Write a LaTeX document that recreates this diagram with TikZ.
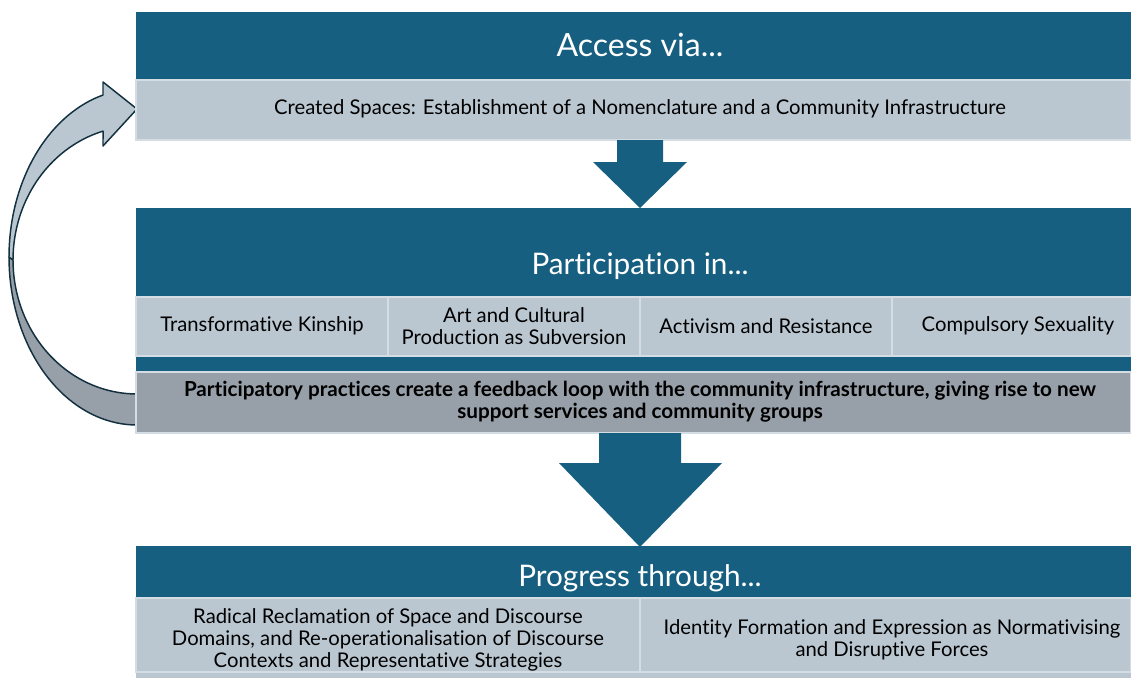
\documentclass[tikz,border=0pt]{standalone}
\usepackage{fontspec}
\setmainfont[Ligatures=NoCommon]{Lato}
\definecolor{bandblue}{HTML}{175F81}
\definecolor{celllight}{HTML}{BAC7D1}
\definecolor{cellrule}{HTML}{D5DDE4}
\definecolor{loopgray}{HTML}{979FA8}
\definecolor{loopline}{HTML}{12303F}

\begin{document}
\begin{tikzpicture}[x=0.75pt, y=-0.75pt,
  band/.style={fill=bandblue},
  cell/.style={fill=celllight, draw=cellrule, line width=1pt},
  title/.style={text=white, font=\fontsize{22.3}{26}\selectfont},
  item/.style={align=center, font=\fontsize{15.2}{16.5}\selectfont},
  loop/.style={draw=loopline, line width=1.1pt, line join=round}]
  \useasboundingbox (0,0) rectangle (1131,678);

  % feedback loop arrow, back face first
  \filldraw[loop, fill=loopgray]
    plot[domain=180:270, samples=40, variable=\t] ({137+128*cos(\t)},{257-168*sin(\t)})
    -- plot[domain=270:180, samples=40, variable=\t] ({137+124*cos(\t)},{260-134*sin(\t)})
    -- cycle;
  \filldraw[loop, fill=celllight]
    (137,109) -- (103,82) -- (103,95)
    -- plot[domain=105.4:180, samples=40, variable=\t] ({137+128*cos(\t)},{257-168*sin(\t)})
    -- plot[domain=180:105.9, samples=40, variable=\t] ({137+124*cos(\t)},{260-134*sin(\t)})
    -- (103,146) -- cycle;

  % access
  \fill[band] (136,12) rectangle (1131,80);
  \node[title, font=\fontsize{24}{28}\selectfont] (access) at (640,45) {Access via...};
  \fill[cell] (136,80) rectangle (1131,140);
  \node[item] (created) at (640,109) {Created Spaces: Establishment of a Nomenclature and a Community Infrastructure};

  \fill[band] (617,140) -- (663,140) -- (663,162) -- (687,162) -- (640,208) -- (593,162) -- (617,162) -- cycle;

  % participation
  \fill[band] (136,208) rectangle (1131,372);
  \node[title] (participation) at (640,266) {Participation in...};
  \draw[cell] (136,297) rectangle (388,356);
  \draw[cell] (388,297) rectangle (640,356);
  \draw[cell] (640,297) rectangle (892,356);
  \draw[cell] (892,297) rectangle (1131,356);
  \node[item] (kinship) at (262,326) {Transformative Kinship};
  \node[item] (art) at (514,326) {Art and Cultural\\Production as Subversion};
  \node[item] (activism) at (766,326) {Activism and Resistance};
  \node[item] (sexuality) at (1018,326) {Compulsory Sexuality};
  \draw[fill=loopgray, draw=cellrule, line width=1pt] (136,372) rectangle (1131,433);
  \node[item, font=\bfseries\fontsize{15.5}{16.5}\selectfont] (feedback) at (640,402)
    {Participatory practices create a feedback loop with the community infrastructure, giving rise to new\\support services and community groups};

  \fill[band] (599,433) -- (681,433) -- (681,463) -- (722,463) -- (640,547) -- (559,463) -- (599,463) -- cycle;

  % progress
  \fill[band] (136,546) rectangle (1131,598);
  \node[title] (progress) at (640,578) {Progress through...};
  \draw[cell] (136,598) rectangle (640,672);
  \draw[cell] (640,598) rectangle (1131,672);
  \fill[celllight] (136,673) rectangle (1131,678);
  \node[item] (reclamation) at (388,640) {Radical Reclamation of Space and Discourse\\Domains, and Re-operationalisation of Discourse\\Contexts and Representative Strategies};
  \node[item] (identity) at (892,640) {Identity Formation and Expression as Normativising\\and Disruptive Forces};
\end{tikzpicture}
\end{document}
